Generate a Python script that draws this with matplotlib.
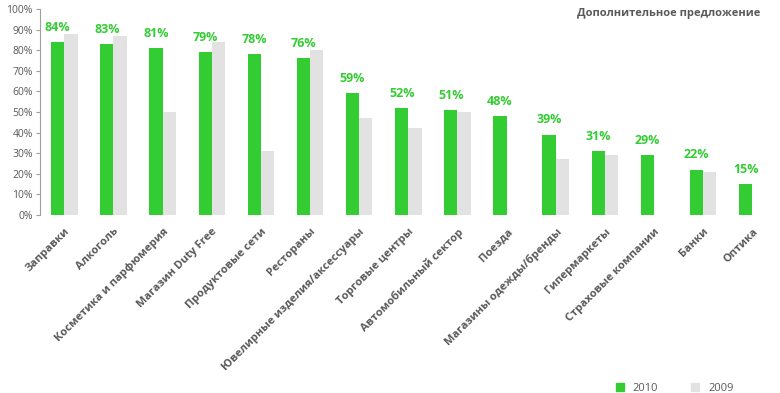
import matplotlib.pyplot as plt
import numpy as np
from matplotlib.patches import Patch

categories = ['Заправки', 'Алкоголь', 'Косметика и парфюмерия', 'Магазин Duty Free',
              'Продуктовые сети', 'Рестораны', 'Ювелирные изделия/аксессуары',
              'Торговые центры', 'Автомобильный сектор', 'Поезда',
              'Магазины одежды/бренды', 'Гипермаркеты', 'Страховые компании',
              'Банки', 'Оптика']
values_2010 = [84, 83, 81, 79, 78, 76, 59, 52, 51, 48, 39, 31, 29, 22, 15]
values_2009 = [88, 87, 50, 84, 31, 80, 47, 42, 50, 0, 27, 29, 0, 21, 0]
yticks = [0, 10, 20, 30, 40, 50, 60, 70, 80, 90, 100]

green = '#33CC33'
grey = '#E2E2E2'
text_grey = '#595959'

plt.rcParams['font.family'] = ['Open Sans', 'DejaVu Sans']

fig = plt.figure(figsize=(7.8, 3.93), dpi=100)
ax = fig.add_axes([0.051, 0.453, 0.945, 0.524])

x = np.arange(len(categories))
w = 0.27
ax.bar(x + w / 2, values_2009, width=w, color=grey, zorder=1)
ax.bar(x - w / 2, values_2010, width=w, color=green, zorder=2)

for xi, v in zip(x, values_2010):
    ax.text(xi - w / 2, v + 4, f'{v}%', ha='center', va='bottom',
            color=green, fontsize=9, fontweight='bold')

ax.set_xlim(-0.5, len(categories) - 0.5)
ax.set_ylim(0, 100)
ax.set_yticks(yticks)
ax.set_yticklabels([f'{t}%' for t in yticks], color=text_grey, fontsize=7.5)
ax.set_xticks(x)
ax.set_xticklabels(categories, rotation=45, ha='right', rotation_mode='anchor',
                   color=text_grey, fontsize=8, fontweight='bold')
ax.tick_params(axis='x', length=0, pad=8)
ax.tick_params(axis='y', length=3, color='#A0A0A0', pad=2)

for s in ['top', 'right', 'bottom']:
    ax.spines[s].set_visible(False)
ax.spines['left'].set_color('#A0A0A0')

fig.text(0.975, 0.965, 'Дополнительное предложение', ha='right', va='center',
         color=text_grey, fontsize=8, fontweight='bold')

handles = [Patch(color=green, label='2010'), Patch(color=grey, label='2009')]
fig.legend(handles=handles, loc='center', bbox_to_anchor=(0.865, 0.012), ncol=2,
           frameon=False, fontsize=8, handlelength=0.7, handleheight=0.7,
           columnspacing=3, labelcolor=text_grey)

fig.savefig('out.png', dpi=100)
